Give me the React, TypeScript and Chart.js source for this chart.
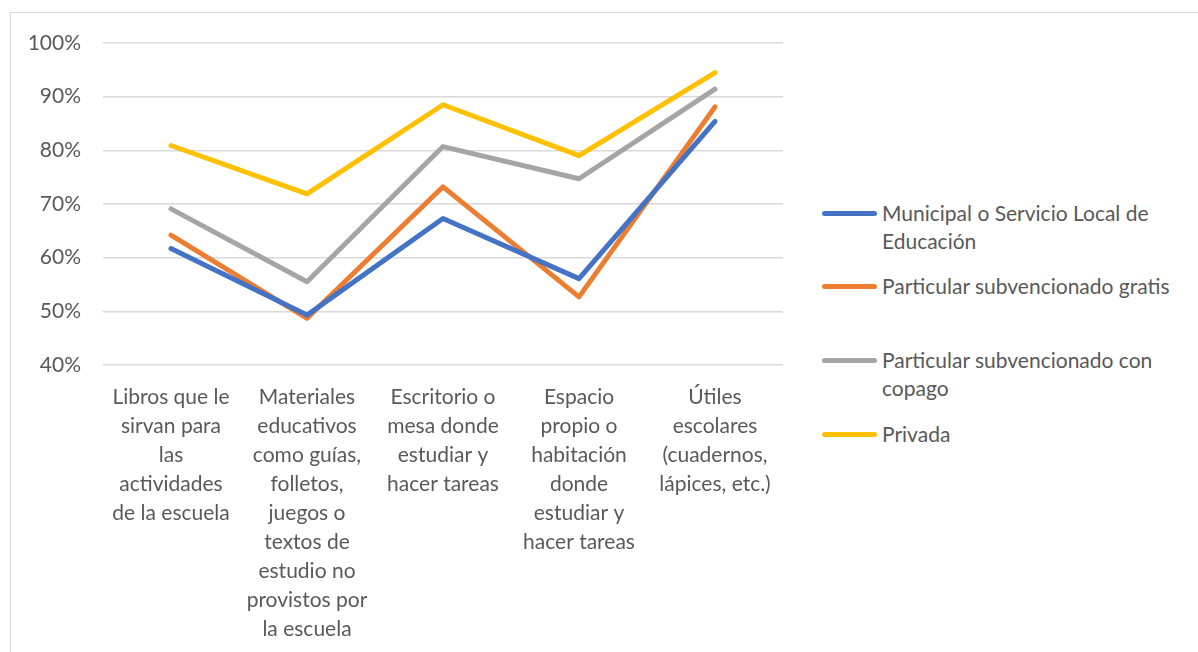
import React, { useEffect, useRef } from "react";
import { Chart, registerables } from "chart.js";

Chart.register(...registerables);

const categories: string[][] = [
  ["Libros que le", "sirvan para", "las", "actividades", "de la escuela"],
  ["Materiales", "educativos", "como guías,", "folletos,", "juegos o", "textos de", "estudio no", "provistos por", "la escuela"],
  ["Escritorio o", "mesa donde", "estudiar y", "hacer tareas"],
  ["Espacio", "propio o", "habitación", "donde", "estudiar y", "hacer tareas"],
  ["Útiles", "escolares", "(cuadernos,", "lápices, etc.)"],
];

const seriesNames: string[] = [
  "Municipal o Servicio Local de Educación",
  "Particular subvencionado gratis",
  "Particular subvencionado con copago",
  "Privada",
];
const legendLines: string[][] = [
  ["Municipal o Servicio Local de", "Educación"],
  ["Particular subvencionado gratis"],
  ["Particular subvencionado con", "copago"],
  ["Privada"],
];

const municipal: number[] = [61.7, 49.3, 67.3, 56.1, 85.4];
const subvGratis: number[] = [64.2, 48.7, 73.2, 52.7, 88.1];
const subvCopago: number[] = [69.1, 55.5, 80.7, 74.7, 91.4];
const privada: number[] = [80.9, 71.9, 88.5, 79.0, 94.5];

const yTicks: number[] = [40, 50, 60, 70, 80, 90, 100];

const colors = ["#4472C4", "#ED7D31", "#A5A5A5", "#FFC000"];
const textColor = "#595959";
const fontFamily = "Lato, 'Open Sans', sans-serif";

export default function App() {
  const ref = useRef<HTMLCanvasElement | null>(null);

  useEffect(() => {
    if (!ref.current) return;
    const values = [municipal, subvGratis, subvCopago, privada];
    const chart = new Chart(ref.current, {
      type: "line",
      data: {
        labels: categories,
        datasets: values.map((v, i) => ({
          label: seriesNames[i],
          data: v,
          borderColor: colors[i],
          backgroundColor: colors[i],
          borderWidth: 5,
          pointRadius: 0,
          pointHoverRadius: 0,
          tension: 0,
          borderCapStyle: "round" as const,
          borderJoinStyle: "round" as const,
          fill: false,
        })),
      },
      options: {
        responsive: false,
        animation: false,
        layout: { padding: { top: 43, left: 0, right: 17, bottom: 0 } },
        plugins: {
          legend: { display: false },
          tooltip: { enabled: false },
        },
        scales: {
          x: {
            offset: true,
            grid: { display: false, drawTicks: false },
            border: { display: false },
            ticks: {
              color: textColor,
              font: { family: fontFamily, size: 21, lineHeight: "29px" },
              maxRotation: 0,
              minRotation: 0,
              autoSkip: false,
              padding: 18,
            },
            afterFit: (s: any) => {
              s.height = 287;
            },
          },
          y: {
            min: 40,
            max: 100,
            afterBuildTicks: (s: any) => {
              s.ticks = yTicks.map((v) => ({ value: v }));
            },
            grid: { color: "#D9D9D9", lineWidth: 1.5, drawTicks: false },
            border: { display: false },
            ticks: {
              color: textColor,
              font: { family: fontFamily, size: 21 },
              padding: 22,
              callback: (v: any) => `${v}%`,
            },
            afterFit: (s: any) => {
              s.width = 103;
            },
          },
        },
      },
    });
    return () => chart.destroy();
  }, []);

  const legendY = [213, 286, 360, 434];

  return (
    <div
      style={{
        position: "fixed",
        left: 0,
        top: 0,
        width: 1198,
        height: 652,
        overflow: "hidden",
        background: "#fff",
      }}
    >
      <div
        style={{
          position: "absolute",
          left: 10,
          top: 12,
          width: 1300,
          height: 800,
          border: "1.5px solid #D9D9D9",
          boxSizing: "border-box",
        }}
      />
      <canvas
        ref={ref}
        width={800}
        height={652}
        style={{ position: "absolute", left: 0, top: 0, display: "block" }}
      />
      {legendLines.map((lines, i) => (
        <React.Fragment key={i}>
          <div
            style={{
              position: "absolute",
              left: 822,
              top: legendY[i] - 2.5,
              width: 55,
              height: 5,
              borderRadius: 2.5,
              background: colors[i],
            }}
          />
          <div
            style={{
              position: "absolute",
              left: 882,
              top: legendY[i] - 14.5,
              fontFamily,
              fontSize: 21,
              lineHeight: "28px",
              color: textColor,
              whiteSpace: "pre",
            }}
          >
            {lines.join("\n")}
          </div>
        </React.Fragment>
      ))}
    </div>
  );
}
